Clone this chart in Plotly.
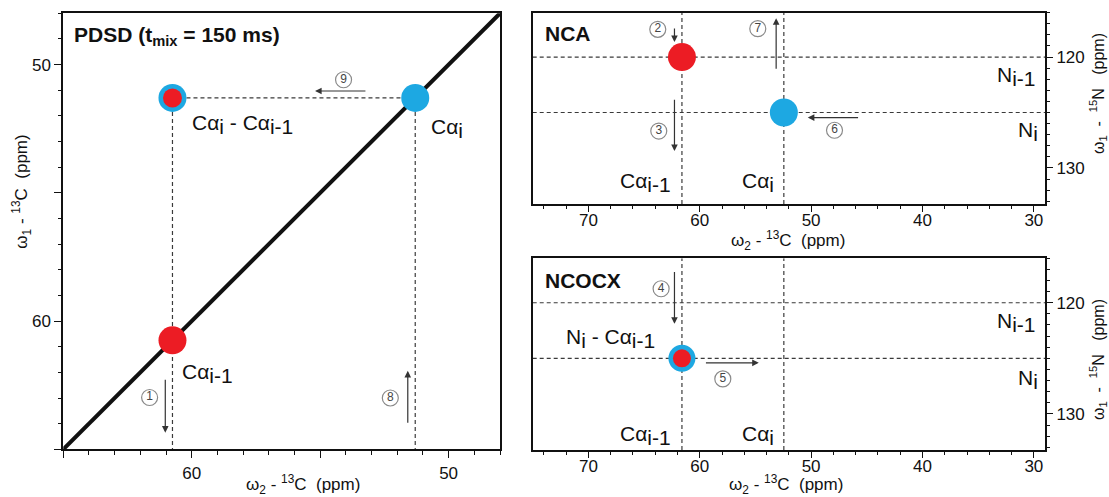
import plotly.graph_objects as go

# ---------------- data (ppm) ----------------
# PDSD 13C-13C panel
pdsd_peak_x = [60.75, 51.3, 60.75]   # Cα(i-1) diagonal, Cα(i) diagonal, Cα(i)-Cα(i-1) cross-peak
pdsd_peak_y = [60.75, 51.3, 51.3]
pdsd_range = [65, 48]

# NCA / NCOCX panels
ca_shifts = [61.6, 52.45]      # Cα(i-1), Cα(i)   13C
n_shifts = [120.0, 125.0]      # N(i-1), N(i)     15N
c_range = [75, 29]
n_range = [133.25, 116.0]

# magnetisation-transfer steps: arrows (x_tail, y_tail, x_head, y_head) and numbered circles
pdsd_arrows = [(61.03, 62.23, 61.03, 64.35), (51.59, 64.02, 51.59, 61.94), (53.18, 51.03, 55.2, 51.03)]
pdsd_steps_x = [61.64, 52.27, 54.09]
pdsd_steps_y = [62.98, 63.0, 50.59]
pdsd_steps = ["1", "8", "9"]

nca_arrows = [(62.27, 117.3, 62.27, 118.65), (53.14, 121.2, 53.14, 116.5),
              (62.27, 123.72, 62.27, 128.47), (45.65, 125.46, 50.3, 125.46)]
nca_steps_x = [63.77, 54.79, 63.68, 47.9]
nca_steps_y = [117.5, 117.44, 126.67, 126.6]
nca_steps = ["2", "7", "3", "6"]

ncocx_arrows = [(62.27, 117.09, 62.27, 121.9), (59.58, 125.41, 54.7, 125.41)]
ncocx_steps_x = [63.47, 57.93]
ncocx_steps_y = [118.74, 126.85]
ncocx_steps = ["4", "5"]

# ---------------- style ----------------
FONT = "Liberation Sans, Arial, sans-serif"
RED = "#EC1C24"
BLUE = "#1DA8E2"
DASHC = "#3a3a3a"
DASH = "4px,3px"
LS = 21
W, H = 1109, 497


def sub(s):
    return f'<sub><span style="font-size:{LS}px">{s}</span></sub>'


CA = "C\u03b1"

fig = go.Figure()


def dline(x, y, xa, ya):
    fig.add_trace(go.Scatter(x=x, y=y, mode="lines", xaxis=xa, yaxis=ya,
                             line=dict(color=DASHC, width=1.2, dash=DASH),
                             hoverinfo="skip", showlegend=False))


def peaks(x, y, color, size, xa, ya):
    fig.add_trace(go.Scatter(x=x, y=y, mode="markers", xaxis=xa, yaxis=ya,
                             marker=dict(color=color, size=size, line=dict(width=0)),
                             hoverinfo="skip", showlegend=False))


def steps(x, y, t, xa, ya):
    fig.add_trace(go.Scatter(x=x, y=y, text=t, mode="markers+text", xaxis=xa, yaxis=ya,
                             textposition="middle center",
                             textfont=dict(size=12, color="#444", family=FONT),
                             marker=dict(symbol="circle-open", size=16, color="#8a8a8a",
                                         line=dict(width=1.2)),
                             hoverinfo="skip", showlegend=False))


# ---- PDSD panel ----
fig.add_trace(go.Scatter(x=pdsd_range, y=pdsd_range, mode="lines", xaxis="x", yaxis="y",
                         line=dict(color="#111", width=4), hoverinfo="skip", showlegend=False))
ca_prev = (pdsd_peak_x[0], pdsd_peak_y[0])
ca_i = (pdsd_peak_x[1], pdsd_peak_y[1])
cross = (pdsd_peak_x[2], pdsd_peak_y[2])
dline([cross[0], ca_i[0]], [cross[1], ca_i[1]], "x", "y")
dline([cross[0], cross[0]], [cross[1], pdsd_range[0]], "x", "y")
dline([ca_i[0], ca_i[0]], [ca_i[1], pdsd_range[0]], "x", "y")
peaks([ca_prev[0]], [ca_prev[1]], RED, 28, "x", "y")
peaks([ca_i[0], cross[0]], [ca_i[1], cross[1]], BLUE, 28, "x", "y")
peaks([cross[0]], [cross[1]], RED, 19, "x", "y")
steps(pdsd_steps_x, pdsd_steps_y, pdsd_steps, "x", "y")

# ---- NCA / NCOCX dashed guides ----
for n in n_shifts:
    dline(c_range, [n, n], "x2", "y2")
    dline(c_range, [n, n], "x3", "y3")
for c in ca_shifts:
    dline([c, c], n_range, "x2", "y2")
    dline([c, c], n_range, "x3", "y3")
# NCA peaks
peaks([ca_shifts[0]], [n_shifts[0]], RED, 28, "x2", "y2")
peaks([ca_shifts[1]], [n_shifts[1]], BLUE, 28, "x2", "y2")
steps(nca_steps_x, nca_steps_y, nca_steps, "x2", "y2")
# NCOCX peak
peaks([ca_shifts[0]], [n_shifts[1]], BLUE, 27, "x3", "y3")
peaks([ca_shifts[0]], [n_shifts[1]], RED, 18, "x3", "y3")
steps(ncocx_steps_x, ncocx_steps_y, ncocx_steps, "x3", "y3")

# ---------------- annotations ----------------
ann = []


def arrows(lst, xr, yr):
    for (x0, y0, x1, y1) in lst:
        ann.append(dict(x=x1, y=y1, ax=x0, ay=y0, xref=xr, yref=yr, axref=xr, ayref=yr,
                        text="", showarrow=True, arrowhead=2, arrowsize=1.1,
                        arrowwidth=1.2, arrowcolor="#333", standoff=0, startstandoff=0))


arrows(pdsd_arrows, "x", "y")
arrows(nca_arrows, "x2", "y2")
arrows(ncocx_arrows, "x3", "y3")


def lab(text, x, y, xr, yr, xanchor="left", size=LS, bold=False):
    ann.append(dict(text=(f"<b>{text}</b>" if bold else text), x=x, y=y, xref=xr, yref=yr,
                    showarrow=False, xanchor=xanchor, yanchor="middle",
                    font=dict(size=size, color="#111", family=FONT)))


# PDSD labels
lab(f"{CA}{sub('i')} - {CA}{sub('i-1')}", 60.08, 52.35, "x", "y")
lab(f"{CA}{sub('i')}", 50.77, 52.5, "x", "y")
lab(f"{CA}{sub('i-1')}", 60.47, 62.06, "x", "y")
# NCA labels
lab(f"{CA}{sub('i-1')}", 67.37, 131.29, "x2", "y2")
lab(f"{CA}{sub('i')}", 56.43, 131.29, "x2", "y2")
lab(f"N{sub('i-1')}", 33.52, 121.74, "x2", "y2")
lab(f"N{sub('i')}", 31.57, 126.7, "x2", "y2")
# NCOCX labels
lab(f"N{sub('i')} - {CA}{sub('i-1')}", 72.16, 123.26, "x3", "y3")
lab(f"{CA}{sub('i-1')}", 67.37, 131.95, "x3", "y3")
lab(f"{CA}{sub('i')}", 56.37, 131.95, "x3", "y3")
lab(f"N{sub('i-1')}", 33.52, 121.77, "x3", "y3")
lab(f"N{sub('i')}", 31.57, 126.87, "x3", "y3")

# panel titles
lab("PDSD (t<sub>mix</sub> = 150 ms)", 71.7 / W, 1 - 36 / H, "paper", "paper", bold=True)
lab("NCA", 542.7 / W, 1 - 33.3 / H, "paper", "paper", bold=True)
lab("NCOCX", 542.7 / W, 1 - 280.8 / H, "paper", "paper", bold=True)

# axis titles
c13x = "\u03c9<sub>2</sub> - <sup>13</sup>C\u00a0\u00a0(ppm)"
c13y = "\u03c9<sub>1</sub> - <sup>13</sup>C\u00a0\u00a0(ppm)"
n15y = "\u03c9<sub>1</sub>\u00a0\u00a0-\u00a0\u00a0<sup>15</sup>N\u00a0\u00a0\u00a0(ppm)"


def atitle(text, px, py, angle=0, size=17):
    ann.append(dict(text=text, x=px / W, y=1 - py / H, xref="paper", yref="paper",
                    showarrow=False, xanchor="center", yanchor="middle", textangle=angle,
                    font=dict(size=size, color="#111", family=FONT)))


atitle(c13x, 302.5, 484)
atitle(c13y, 22, 191.7, -90)
atitle(c13x, 788, 241)
atitle(c13x, 786, 484)
atitle(n15y, 1098, 94, -90, 16)
atitle(n15y, 1098, 360, -90, 16)

# ---------------- axes ----------------
frame = dict(showline=True, linewidth=2, linecolor="#111", mirror=True, showgrid=False,
             zeroline=False, ticks="outside", tickcolor="#111", tickwidth=1,
             tickfont=dict(size=17, color="#111", family=FONT))


def minor(d, ln):
    return dict(ticks="outside", tickmode="linear", tick0=0, dtick=d, ticklen=ln,
                tickcolor="#111", showgrid=False)


fig.update_layout(
    width=W, height=H, margin=dict(l=0, r=0, t=0, b=0),
    paper_bgcolor="white", plot_bgcolor="white", showlegend=False,
    font=dict(family=FONT, color="#111"),
    xaxis=dict(frame, domain=[63.3 / W, 500 / W], range=pdsd_range, anchor="y",
               tickmode="array", tickvals=[65, 60, 55, 50], ticktext=["", "60", "", "50"], ticklen=7,
               minor=minor(1, 3.5)),
    yaxis=dict(frame, domain=[1 - 449.3 / H, 1 - 13.3 / H], range=pdsd_range, anchor="x",
               tickmode="array", tickvals=[65, 60, 55, 50], ticktext=["", "60", "", "50"], ticklen=7,
               minor=minor(1, 3.5)),
    xaxis2=dict(frame, domain=[532.7 / W, 1045 / W], range=c_range, anchor="y2",
                tickmode="linear", tick0=0, dtick=10, ticklen=6, minor=minor(2, 3),
                ticklabelstandoff=-6),
    yaxis2=dict(frame, domain=[1 - 204 / H, 1 - 12.7 / H], range=n_range, anchor="x2", side="right",
                tickmode="linear", tick0=0, dtick=10, ticklen=6, minor=minor(1, 3)),
    xaxis3=dict(frame, domain=[532.7 / W, 1045 / W], range=c_range, anchor="y3",
                tickmode="linear", tick0=0, dtick=10, ticklen=6, minor=minor(2, 3),
                ticklabelstandoff=-6),
    yaxis3=dict(frame, domain=[1 - 450 / H, 1 - 258.3 / H], range=n_range, anchor="x3", side="right",
                tickmode="linear", tick0=0, dtick=10, ticklen=6, minor=minor(1, 3)),
    annotations=ann,
)

fig.write_html("out.html", config={"displayModeBar": False},
               post_script="document.body.style.margin='0';document.body.style.overflow='hidden';")
